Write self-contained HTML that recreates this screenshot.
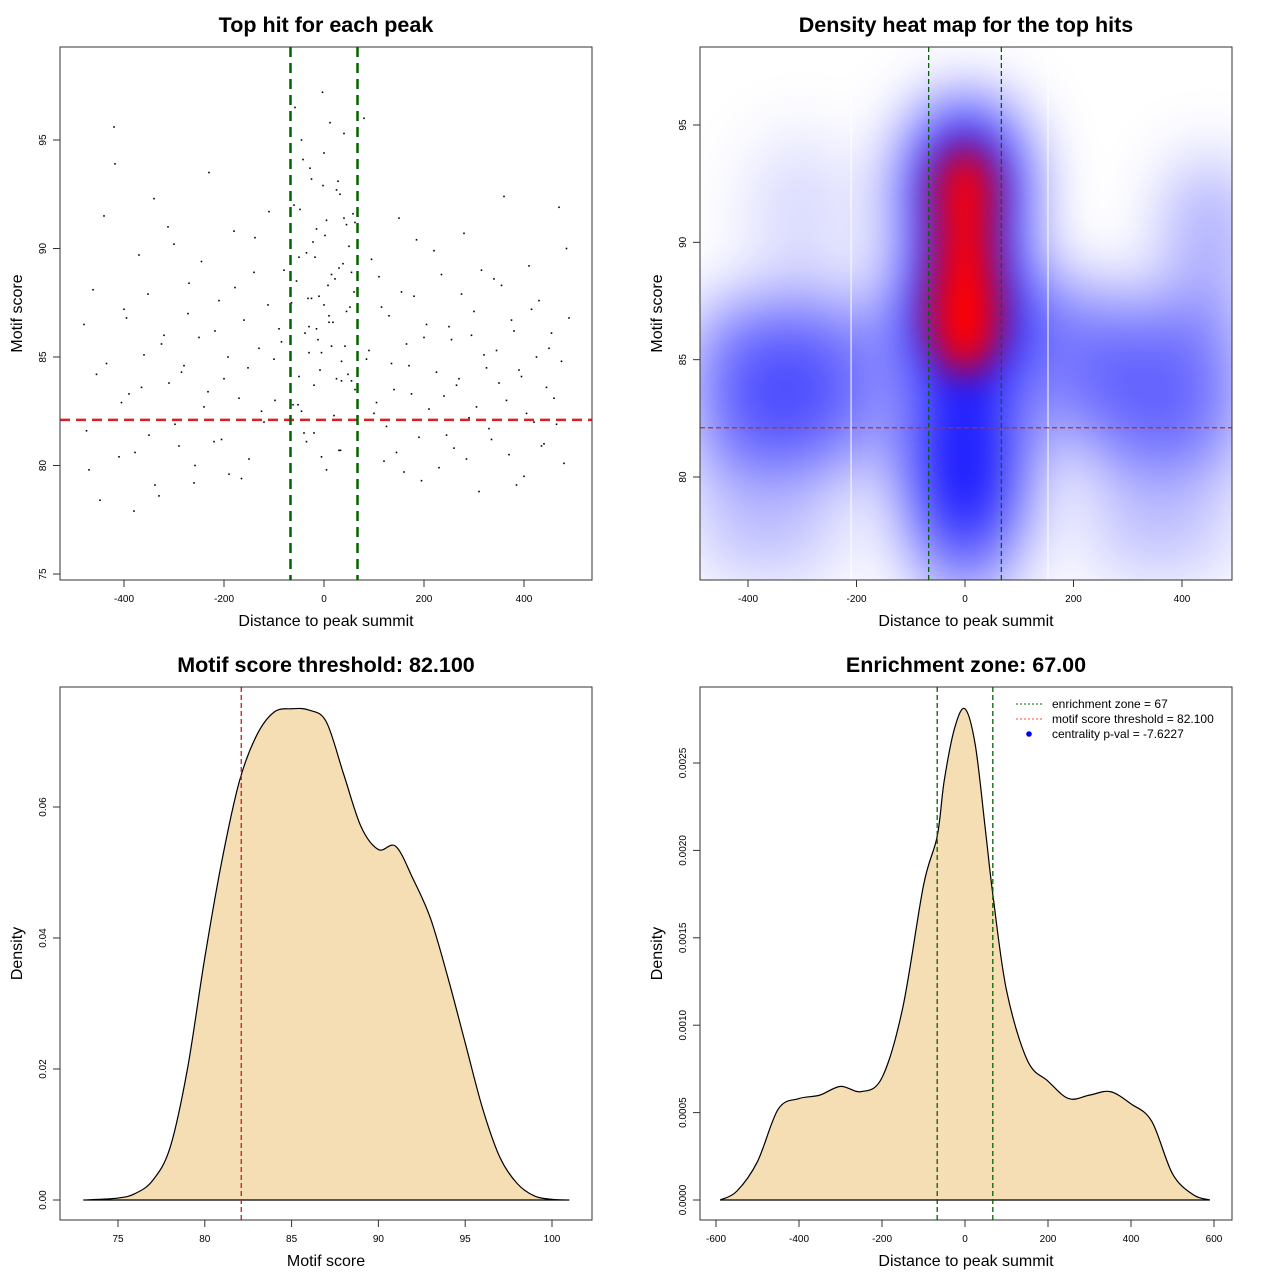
<!DOCTYPE html>
<html><head><meta charset="utf-8"><style>
html,body{margin:0;padding:0;background:#fff;}
svg{display:block;font-family:"Liberation Sans",sans-serif;}
</style></head><body>
<svg id="c" width="1280" height="1280" viewBox="0 0 1280 1280">
<defs>
<filter id="blurB" x="-80%" y="-80%" width="260%" height="260%"><feGaussianBlur stdDeviation="34"/></filter>
<filter id="blurR" x="-80%" y="-80%" width="260%" height="260%"><feGaussianBlur stdDeviation="18"/></filter>
<clipPath id="clipTR"><rect x="700" y="47" width="532" height="533"/></clipPath>
</defs>
</svg>
<script>
// ---- data ----
const scatterX=[-480,-470,-455,-440,-430,-420,-410,-400,-390,-380,-370,-360,-350,-340,-330,-320,-310,-300,-290,-280,-270,-260,-250,-240,-230,-220,-210,-200,-190,-180,-170,-160,-150,-140,-130,-120,-110,-100,-90,-80,-475,-462,-448,-435,-418,-405,-395,-378,-365,-352,-338,-325,-312,-298,-285,-272,-258,-245,-232,-218,-205,-192,-178,-165,-152,-138,-125,-112,-98,-85,-60,-55,-50,-45,-40,-35,-30,-25,-20,-15,-10,-5,0,5,10,15,20,25,30,35,40,45,50,55,60,-58,-48,-38,-28,-18,-8,2,12,22,32,42,52,62,-52,-42,-32,-22,-12,-2,8,18,28,38,48,58,-65,-3,33,80,90,100,110,120,130,140,150,160,170,180,190,200,210,220,230,240,250,260,270,280,290,300,310,320,330,340,350,360,370,380,390,400,410,420,430,440,450,460,470,480,490,85,95,105,115,125,135,145,155,165,175,185,195,205,215,225,235,245,255,265,275,285,295,305,315,325,335,345,355,365,375,385,395,405,415,425,435,445,455,465,475,485,-45,-25,-5,15,35,55,-35,-15,5,25,45,-62,-30,0,30,62,-50,-20,10,40];
const scatterY=[86.5,79.8,84.2,91.5,82.1,95.6,80.4,87.2,83.3,77.9,89.7,85.1,81.4,92.3,78.6,86.0,83.8,90.2,80.9,84.6,88.4,79.2,85.9,82.7,93.5,81.1,87.6,84.0,79.6,90.8,83.1,86.7,80.3,88.9,85.4,82.0,91.7,84.9,86.3,89.0,81.6,88.1,78.4,84.7,93.9,82.9,86.8,80.6,83.6,87.9,79.1,85.6,91.0,81.9,84.3,87.0,80.0,89.4,83.4,86.2,81.2,85.0,88.2,79.4,84.5,90.5,82.5,87.4,83.0,85.7,92.0,88.5,84.1,95.0,81.5,89.8,86.4,93.2,83.7,90.9,87.8,85.2,94.4,91.3,86.9,88.8,82.3,92.7,89.1,84.8,95.3,87.1,90.1,83.9,88.0,96.5,91.8,86.1,93.7,89.6,84.4,90.6,95.8,88.6,92.5,85.5,87.3,91.2,82.8,94.1,87.7,90.3,85.8,92.9,88.3,86.6,93.1,89.3,84.2,91.6,87.5,97.2,80.7,96.0,85.3,82.4,88.7,80.2,86.9,83.5,91.4,79.7,84.6,87.8,81.3,85.9,82.6,89.9,79.9,83.2,86.4,80.8,84.0,90.7,82.2,87.1,78.8,85.1,81.7,88.6,83.8,92.4,80.5,86.2,84.4,79.5,89.2,82.0,87.6,81.0,85.4,83.1,91.9,80.1,86.8,84.9,89.5,82.9,87.3,81.8,84.7,80.6,88.0,85.6,83.3,90.4,79.3,86.5,82.1,84.3,88.8,81.4,85.8,83.7,87.9,80.3,86.0,82.7,89.0,84.5,81.2,85.3,88.3,83.0,86.7,79.1,84.1,82.4,87.2,85.0,80.9,83.6,86.1,81.9,84.8,90.0,82.5,87.7,80.4,85.5,83.9,88.9,81.1,86.3,79.8,84.0,91.1,82.8,85.2,87.4,80.7,83.5,89.6,81.5,86.6,91.4,86.2,89.7,93.6,88.1,84.9,90.8,87.3,85.6,92.2,86.9,89.2,94.8,88.4,90.5,87.0,91.9,85.1,93.0,88.7];
const heatBlueX=[0,0,0,0,-420,-300,-200,200,330,450,450,-420,-300,420,300,-300];
const heatBlueY=[87,92,81,78,84,84,84,85,84,90,84,79,79,79,79,91];
const heatBlueR=[120,110,110,100,90,100,70,80,100,80,80,90,90,90,90,100];
const heatBlueA=[1,1,0.9,0.5,0.55,0.6,0.4,0.5,0.55,0.35,0.45,0.22,0.2,0.2,0.2,0.15];
const heatRedX=[0,0,0];
const heatRedY=[87,92,89.5];
const heatRedA=[1,0.95,0.9];
const scoreX=[73,75,76,77,78,79,80,81,82,83,84,85,86,87,88,89,90,91,92,93,94,95,96,97,98,99,100,101];
const scoreD=[0,0.0003,0.001,0.003,0.008,0.02,0.037,0.052,0.064,0.071,0.0745,0.075,0.0748,0.073,0.065,0.057,0.0535,0.054,0.049,0.043,0.034,0.024,0.014,0.0065,0.0025,0.0006,0.0001,0];
const distX=[-590,-550,-500,-450,-400,-350,-300,-250,-200,-150,-100,-67,-50,-25,0,25,50,67,100,150,200,250,300,350,400,450,500,550,590];
const distD=[0,0.00005,0.00022,0.00052,0.00058,0.0006,0.00065,0.00062,0.0007,0.0011,0.0018,0.00208,0.0024,0.0027,0.00281,0.0026,0.0021,0.00175,0.0012,0.0008,0.00068,0.00058,0.0006,0.00062,0.00055,0.00045,0.00015,0.00003,0];
const ticksTL_X=[-400,-200,0,200,400], ticksTL_Y=[75,80,85,90,95];
const ticksTR_Y=[80,85,90,95];
const ticksBL_X=[75,80,85,90,95,100], ticksBL_Y=[0,0.02,0.04,0.06], ticksBL_YL=["0.00","0.02","0.04","0.06"];
const ticksBR_X=[-600,-400,-200,0,200,400,600], ticksBR_Y=[0,0.0005,0.001,0.0015,0.002,0.0025], ticksBR_YL=["0.0000","0.0005","0.0010","0.0015","0.0020","0.0025"];

const svg=document.getElementById('c');
const NS='http://www.w3.org/2000/svg';
function mk(tag,attrs,parent){const e=document.createElementNS(NS,tag);for(const k in attrs)e.setAttribute(k,attrs[k]);(parent||svg).appendChild(e);return e;}
function lin(d0,d1,p0,p1){return v=>p0+(v-d0)*(p1-p0)/(d1-d0);}
function smooth(pts){let d='M'+pts[0][0]+','+pts[0][1];for(let i=0;i<pts.length-1;i++){const p0=pts[Math.max(0,i-1)],p1=pts[i],p2=pts[i+1],p3=pts[Math.min(pts.length-1,i+2)];d+=' C'+(p1[0]+(p2[0]-p0[0])/6)+','+(p1[1]+(p2[1]-p0[1])/6)+' '+(p2[0]-(p3[0]-p1[0])/6)+','+(p2[1]-(p3[1]-p1[1])/6)+' '+p2[0]+','+p2[1];}return d;}
function text(x,y,s,size,name,opts){const t=mk('text',Object.assign({x:x,y:y,'font-size':size,'text-anchor':'middle'},opts||{}));t.textContent=s;


return t;}
function axes(p,xt,xs,xl,yt,ys,yl,title,xlab,ylab,id){
  const box=mk('rect',{x:p.x0,y:p.y0,width:p.x1-p.x0,height:p.y1-p.y0,fill:'none',stroke:'#333','stroke-width':1});
  
  
  xt.forEach((v,i)=>{const X=xs(v);mk('line',{x1:X,x2:X,y1:p.y1,y2:p.y1+7,stroke:'#333'});text(X,p.y1+22,xl?xl[i]:String(v),10,id+'-x-tick');});
  yt.forEach((v,i)=>{const Y=ys(v);mk('line',{x1:p.x0-7,x2:p.x0,y1:Y,y2:Y,stroke:'#333'});text(p.x0-14,Y,yl?yl[i]:String(v),10,id+'-y-tick',{transform:'rotate(-90 '+(p.x0-14)+' '+Y+')'});});
  text((p.x0+p.x1)/2,p.y0-15,title,21.5,id+'-title',{'font-weight':'bold'});
  text((p.x0+p.x1)/2,p.y1+46,xlab,16,id+'-x-axis-title');
  const yc=(p.y0+p.y1)/2;text(p.x0-38,yc,ylab,16,id+'-y-axis-title',{transform:'rotate(-90 '+(p.x0-38)+' '+yc+')'});
}
// ---- top-left scatter ----
{const p={x0:60,y0:47,x1:592,y1:580};const xs=lin(0,400,324,524),ys=lin(75,95,574,140);
 const n=Math.min(scatterX.length,scatterY.length);
 for(let i=0;i<n;i++){const c=mk('rect',{x:xs(scatterX[i])-0.8,y:ys(scatterY[i])-0.8,width:1.6,height:1.6,fill:'#000'});
 
 }
 const h=mk('line',{x1:p.x0,x2:p.x1,y1:ys(82.1),y2:ys(82.1),stroke:'#e02020','stroke-width':2.5,'stroke-dasharray':'10,6'});
 
 [-67,67].forEach(v=>{const l=mk('line',{x1:xs(v),x2:xs(v),y1:p.y0,y2:p.y1,stroke:'#006400','stroke-width':2.5,'stroke-dasharray':'10,6'});
 });
 axes(p,ticksTL_X,xs,null,ticksTL_Y,ys,null,'Top hit for each peak','Distance to peak summit','Motif score','tl');}
// ---- top-right heatmap ----
{const p={x0:700,y0:47,x1:1232,y1:580};const xs=lin(0,400,965,1182),ys=lin(80,95,477,125);
 const g=mk('g',{'clip-path':'url(#clipTR)'});
 mk('rect',{x:700,y:47,width:532,height:533,fill:'#fff'},g);
 const gb=mk('g',{filter:'url(#blurB)'},g);
 heatBlueX.forEach((v,i)=>{const e=mk('ellipse',{cx:xs(v),cy:ys(heatBlueY[i]),rx:heatBlueR[i]*0.5425,ry:i<3?95:85,fill:'#0000ff','fill-opacity':heatBlueA[i]},gb);
 });
 const gr=mk('g',{filter:'url(#blurR)'},g);
 heatRedX.forEach((v,i)=>{const e=mk('ellipse',{cx:xs(v),cy:ys(heatRedY[i]),rx:i===0?36:31,ry:i===0?62:50,fill:'#ff0000','fill-opacity':heatRedA[i]},gr);
 });
 [-210,153].forEach(v=>mk('line',{x1:xs(v),x2:xs(v),y1:p.y0,y2:p.y1,stroke:'#fff','stroke-width':1},g));
 [-67,67].forEach(v=>{const l=mk('line',{x1:xs(v),x2:xs(v),y1:p.y0,y2:p.y1,stroke:'#006400','stroke-width':1.3,'stroke-dasharray':'5,3'});
 });
 const h=mk('line',{x1:p.x0,x2:p.x1,y1:ys(82.1),y2:ys(82.1),stroke:'#b03030','stroke-width':1.3,'stroke-dasharray':'5,3'});
 
 axes(p,ticksTL_X,xs,null,ticksTR_Y,ys,null,'Density heat map for the top hits','Distance to peak summit','Motif score','tr');}
// ---- bottom-left density ----
{const p={x0:60,y0:687,x1:592,y1:1220};const xs=lin(75,100,118,552),ys=lin(0,0.06,1200,807);
 const pts=scoreX.map((v,i)=>[xs(v),ys(scoreD[i])]);
 const a=mk('path',{d:smooth(pts)+' Z',fill:'#f5deb3',stroke:'#000','stroke-width':1.2});
 
 const l=mk('line',{x1:xs(82.1),x2:xs(82.1),y1:p.y0,y2:p.y1,stroke:'#c02020','stroke-width':1.3,'stroke-dasharray':'5,3'});
 
 axes(p,ticksBL_X,xs,null,ticksBL_Y,ys,ticksBL_YL,'Motif score threshold: 82.100','Motif score','Density','bl');}
// ---- bottom-right density ----
{const p={x0:700,y0:687,x1:1232,y1:1220};const xs=lin(-600,600,716,1214),ys=lin(0,0.0025,1200,763);
 const pts=distX.map((v,i)=>[xs(v),ys(distD[i])]);
 const a=mk('path',{d:smooth(pts)+' Z',fill:'#f5deb3',stroke:'#000','stroke-width':1.2});
 
 [-67,67].forEach(v=>{const l=mk('line',{x1:xs(v),x2:xs(v),y1:p.y0,y2:p.y1,stroke:'#006400','stroke-width':1.3,'stroke-dasharray':'5,3'});
 });
 axes(p,ticksBR_X,xs,null,ticksBR_Y,ys,ticksBR_YL,'Enrichment zone: 67.00','Distance to peak summit','Density','br');
 const lg=mk('g',{});
 mk('line',{x1:1016,x2:1042,y1:704,y2:704,stroke:'#006400','stroke-dasharray':'2,2'},lg);
 mk('line',{x1:1016,x2:1042,y1:719,y2:719,stroke:'#ff4040','stroke-dasharray':'2,2'},lg);
 mk('circle',{cx:1029,cy:734,r:2.8,fill:'#0000ff'},lg);
 text(1052,708,'enrichment zone = 67',12,'legend-entry',{'text-anchor':'start'});
 text(1052,723,'motif score threshold = 82.100',12,'legend-entry',{'text-anchor':'start'});
 text(1052,738,'centrality p-val = -7.6227',12,'legend-entry',{'text-anchor':'start'});}
</script>
</body></html>
